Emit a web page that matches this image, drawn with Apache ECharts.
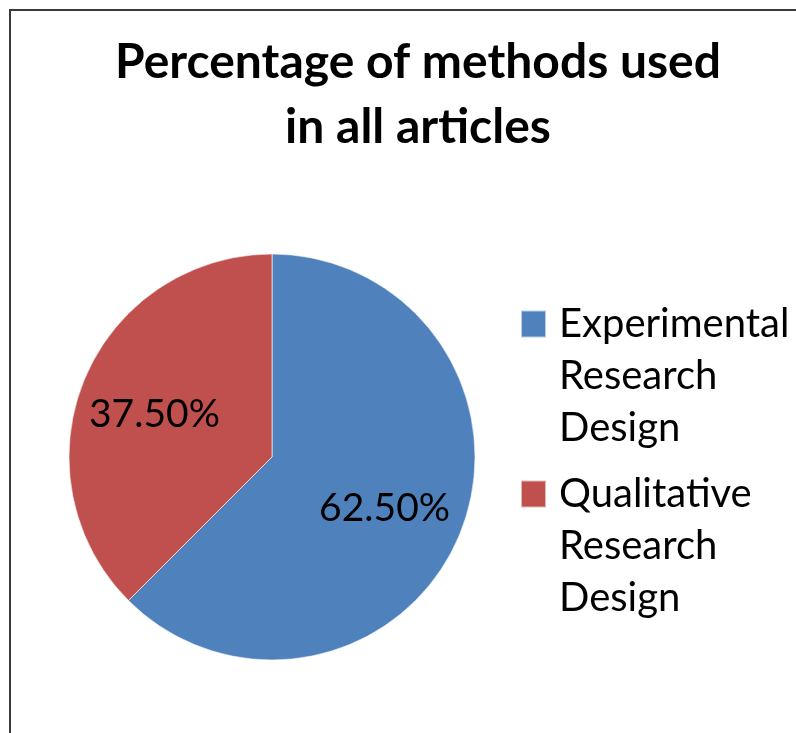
<!DOCTYPE html>
<html>
<head>
<meta charset="utf-8">
<script src="https://cdn.jsdelivr.net/npm/echarts@6/dist/echarts.min.js"></script>
<style>
  html, body { margin: 0; padding: 0; background: #fff; }
  #chart { width: 796px; height: 733px; }
</style>
</head>
<body>
<div id="chart"></div>
<script>
// data
const categories = ['Experimental Research Design', 'Qualitative Research Design'];
const legendLines = [['Experimental', 'Research', 'Design'], ['Qualitative', 'Research', 'Design']];
const shares = [62.5, 37.5];
const colors = ['#4F81BD', '#C0504D'];
// small nudges so labels sit a bit further out than the default r/2
const labelOffsets = [[16, 11], [-21, -3]];

const chart = echarts.init(document.getElementById('chart'));

chart.setOption({
    backgroundColor: '#ffffff',
    animation: false,
    title: {
        text: 'Percentage of methods used\nin all articles',
        left: 418,
        top: 30,
        padding: 0,
        textAlign: 'center',
        textStyle: {
            fontFamily: 'Lato',
            fontWeight: 'bold',
            fontSize: 48,
            lineHeight: 65,
            color: '#000'
        }
    },
    legend: {
        orient: 'vertical',
        left: 520,
        top: 194,
        padding: 0,
        itemGap: -90,
        itemWidth: 25,
        itemHeight: 27,
        icon: 'rect',
        data: categories,
        // two blank lines on top so the first text line lines up with the square
        formatter: function (name) {
            return '\n\n' + legendLines[categories.indexOf(name)].join('\n');
        },
        textStyle: {
            fontFamily: 'Lato',
            fontSize: 40,
            lineHeight: 52,
            color: '#000',
            padding: [0, 0, 0, 8]
        }
    },
    graphic: [{
        type: 'rect',
        shape: { x: 10, y: 10, width: 820, height: 800 },
        style: { fill: 'none', stroke: '#3a3a3a', lineWidth: 2 },
        silent: true
    }],
    series: [{
        type: 'pie',
        center: [272, 457],
        radius: 203,
        startAngle: 90,
        clockwise: true,
        itemStyle: {
            borderColor: 'rgba(255,255,255,0.6)',
            borderWidth: 1
        },
        label: {
            show: true,
            position: 'inside',
            fontFamily: 'Lato',
            fontSize: 39,
            color: '#000',
            formatter: function (p) {
                return p.value.toFixed(2) + '%';
            }
        },
        labelLine: { show: false },
        data: categories.map((name, i) => ({
            name: name,
            value: shares[i],
            itemStyle: { color: colors[i] },
            label: { offset: labelOffsets[i] }
        }))
    }]
});
</script>
</body>
</html>
